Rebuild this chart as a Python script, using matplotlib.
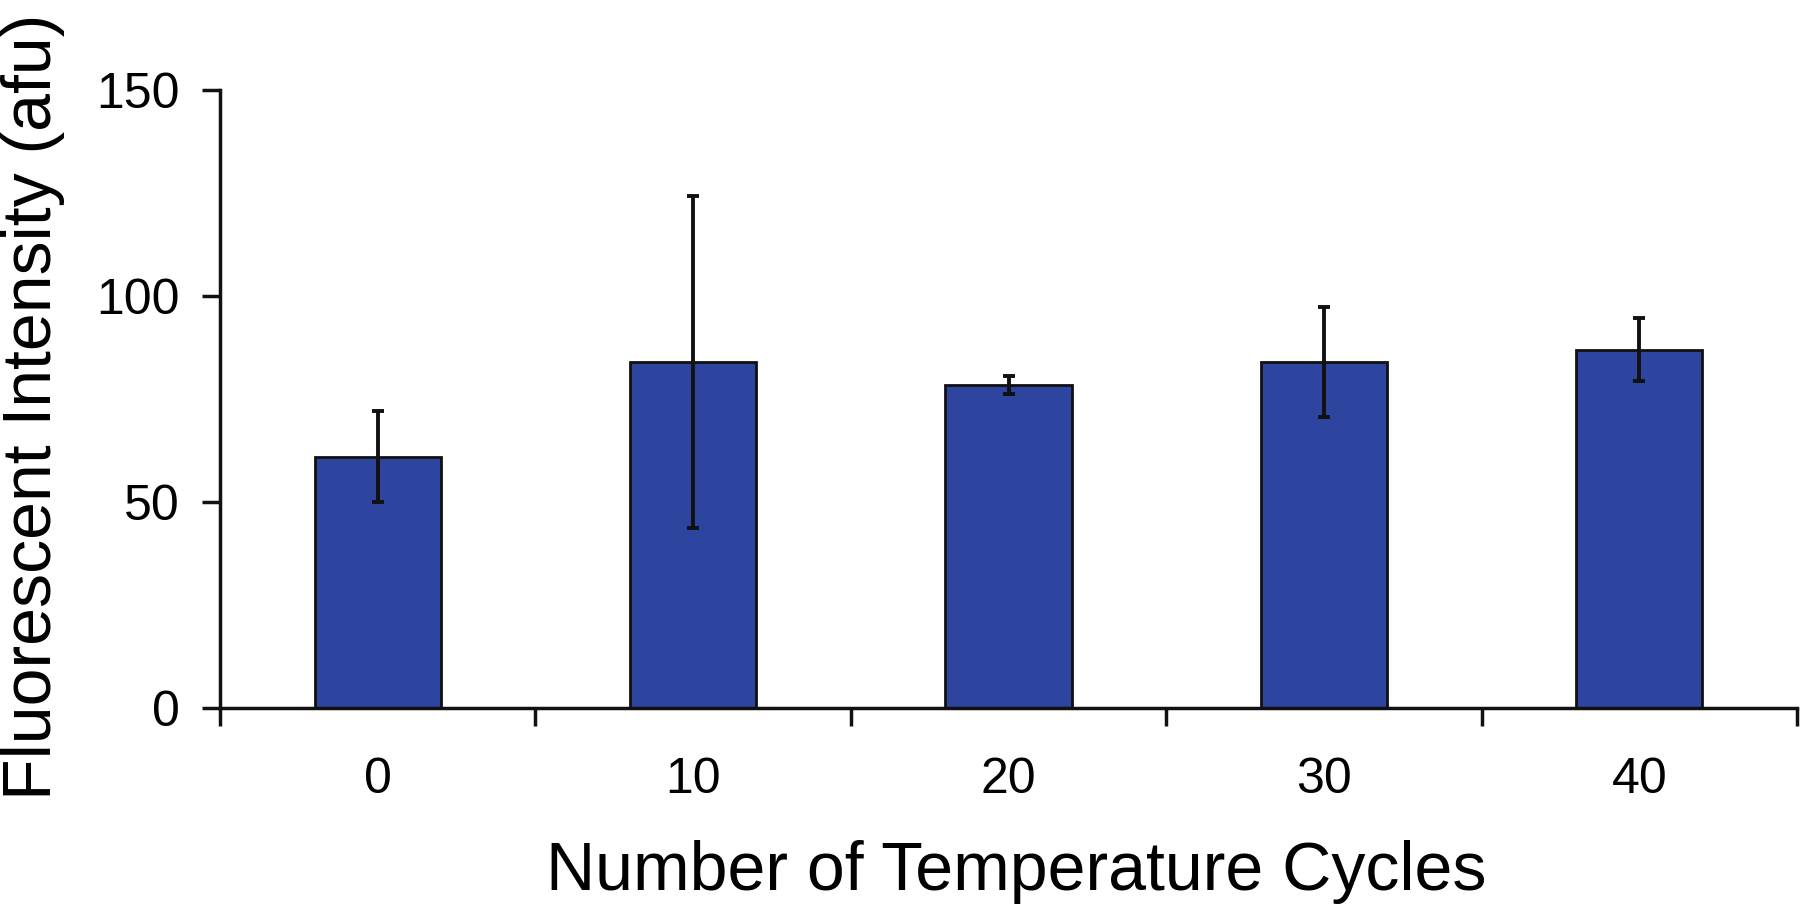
import matplotlib
matplotlib.use("Agg")
import matplotlib.pyplot as plt
import numpy as np

plt.rcParams['font.family'] = ['Liberation Sans', 'DejaVu Sans']

categories = ["0", "10", "20", "30", "40"]
means = [61.0, 84.0, 78.4, 84.0, 87.0]
errors = [11.0, 40.2, 2.1, 13.4, 7.7]
yticks = [0, 50, 100, 150]

bar_color = "#2E45A0"

fig = plt.figure(figsize=(18, 9.05), dpi=100)
ax = fig.add_axes([220/1800, 1 - 708/905, (1797-220)/1800, (708-90)/905])

x = np.arange(len(categories))
ax.bar(x, means, width=0.4, color=bar_color, edgecolor="#111111", linewidth=2.0, zorder=2)
ax.errorbar(x, means, yerr=errors, fmt='none', ecolor="#111111", elinewidth=2.8,
            capsize=4.5, capthick=2.8, zorder=3)

ax.set_xlim(-0.5, len(categories) - 0.5)
ax.set_ylim(0, 150)

for s in ["top", "right"]:
    ax.spines[s].set_visible(False)
for s in ["left", "bottom"]:
    ax.spines[s].set_linewidth(2.5)
    ax.spines[s].set_color("#111111")

# boundary ticks (major, unlabeled), category labels on minor ticks
ax.set_xticks(np.arange(len(categories) + 1) - 0.5)
ax.set_xticklabels([])
ax.set_xticks(x, minor=True)
ax.set_xticklabels(categories, minor=True)
ax.tick_params(axis='x', which='major', direction='out', length=13, width=2.5, color="#111111")
ax.tick_params(axis='x', which='minor', length=0, pad=35, labelsize=36)

ax.set_yticks(yticks)
ax.set_yticklabels([str(v) for v in yticks])
ax.tick_params(axis='y', direction='out', length=13, width=2.5, color="#111111", pad=16, labelsize=36)

ax.set_xlabel("Number of Temperature Cycles", fontsize=49)
ax.xaxis.set_label_coords(0.505, -0.2136)
ax.set_ylabel("Fluorescent Intensity (afu)", fontsize=49)
ax.yaxis.set_label_coords(-0.098, 0.487)

fig.savefig("out.png", dpi=100, facecolor="white")
